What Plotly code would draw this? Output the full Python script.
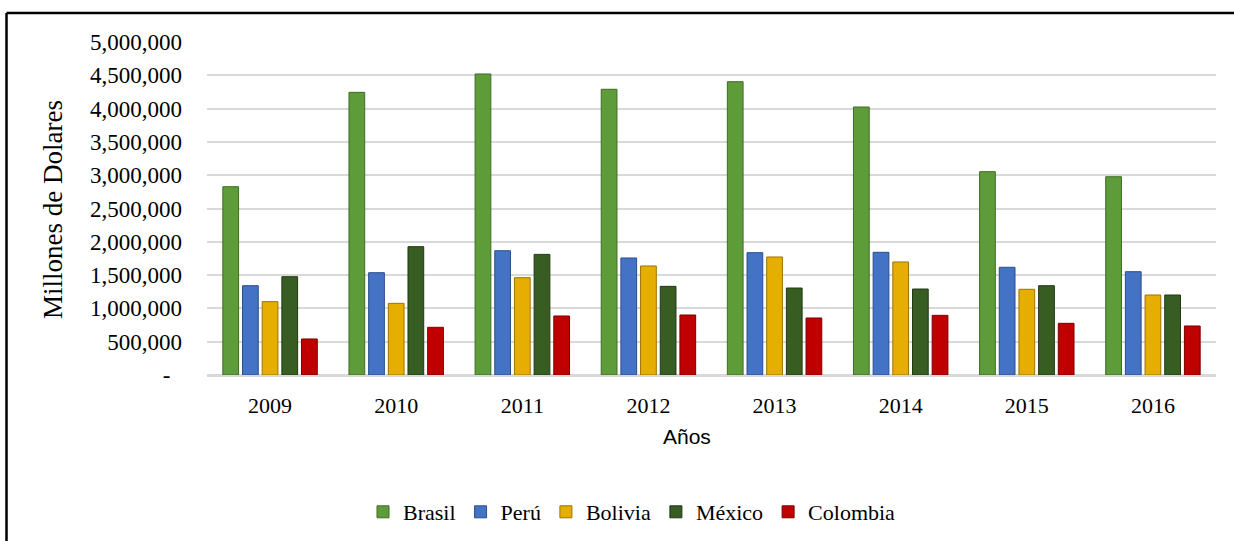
import plotly.graph_objects as go

years = ["2009", "2010", "2011", "2012", "2013", "2014", "2015", "2016"]
brasil = [2827000, 4244000, 4520000, 4290000, 4404000, 4024000, 3053000, 2977000]
peru = [1341000, 1536000, 1866000, 1757000, 1837000, 1842000, 1617000, 1551000]
bolivia = [1101000, 1076000, 1461000, 1637000, 1772000, 1697000, 1287000, 1201000]
mexico = [1476000, 1927000, 1811000, 1331000, 1306000, 1291000, 1341000, 1201000]
colombia = [541000, 716000, 886000, 901000, 856000, 896000, 776000, 736000]

series = [
    ("Brasil", brasil, "#5E9C3A", "#3E6B26"),
    ("Perú", peru, "#4472C4", "#2B4E8C"),
    ("Bolivia", bolivia, "#E6AE00", "#9C7400"),
    ("México", mexico, "#385D22", "#213814"),
    ("Colombia", colombia, "#C00000", "#7A0000"),
]

ytickvals = [0, 500000, 1000000, 1500000, 2000000, 2500000, 3000000, 3500000, 4000000, 4500000, 5000000]
yticktext = ["-\u00a0\u00a0", "500,000", "1,000,000", "1,500,000", "2,000,000", "2,500,000",
             "3,000,000", "3,500,000", "4,000,000", "4,500,000", "5,000,000"]

fig = go.Figure()
for name, vals, col, edge in series:
    fig.add_trace(go.Bar(name=name, x=years, y=vals,
                         marker=dict(color=col, line=dict(color=edge, width=1))))

L, R, T, B = 207, 18, 42, 166
W, H = 1234, 541
pw, ph = W - L - R, H - T - B

def px(x):
    return (x - L) / pw

def py(y):
    return (H - B - y) / ph

serif = "Liberation Serif"

fig.update_layout(
    width=W, height=H,
    margin=dict(l=L, r=R, t=T, b=B),
    paper_bgcolor="white", plot_bgcolor="white",
    barmode="group", bargap=0.22, bargroupgap=0.2,
    font=dict(family=serif, size=22, color="black"),
    showlegend=True,
    legend=dict(orientation="h", xref="container", yref="container",
                x=632 / W, xanchor="center", y=1 - 512 / H, yanchor="middle",
                font=dict(family=serif, size=22, color="black"), itemwidth=30),
    xaxis=dict(showgrid=False, ticks="", showline=True, linecolor="#D9D9D9", linewidth=1.5,
               tickfont=dict(family=serif, size=22), ticklabelstandoff=10, automargin=False),
    yaxis=dict(range=[0, 5000000], tickvals=ytickvals, ticktext=yticktext,
               showgrid=True, gridcolor="#D9D9D9", gridwidth=1.5, zeroline=True,
               zerolinecolor="#D9D9D9", zerolinewidth=1.5, ticks="", showline=False,
               tickfont=dict(family=serif, size=23), ticklabelstandoff=24, automargin=False),
    annotations=[
        dict(text="Millones de Dolares", xref="paper", yref="paper", x=px(53), y=py(210),
             textangle=-90, showarrow=False, xanchor="center", yanchor="middle",
             font=dict(family=serif, size=27, color="black")),
        dict(text="Años", xref="paper", yref="paper", x=px(687), y=py(436),
             showarrow=False, xanchor="center", yanchor="middle",
             font=dict(family="Liberation Sans", size=21, color="black")),
    ],
    shapes=[
        dict(type="line", xref="paper", yref="paper", x0=px(6.5), y0=py(13), x1=px(1234), y1=py(13),
             line=dict(color="black", width=2.5), layer="above"),
        dict(type="line", xref="paper", yref="paper", x0=px(6.5), y0=py(13), x1=px(6.5), y1=py(541),
             line=dict(color="black", width=2.5), layer="above"),
    ],
)

fig.write_html("out.html", config={"displayModeBar": False},
               post_script="document.body.style.margin='0';document.body.style.overflow='hidden';")
